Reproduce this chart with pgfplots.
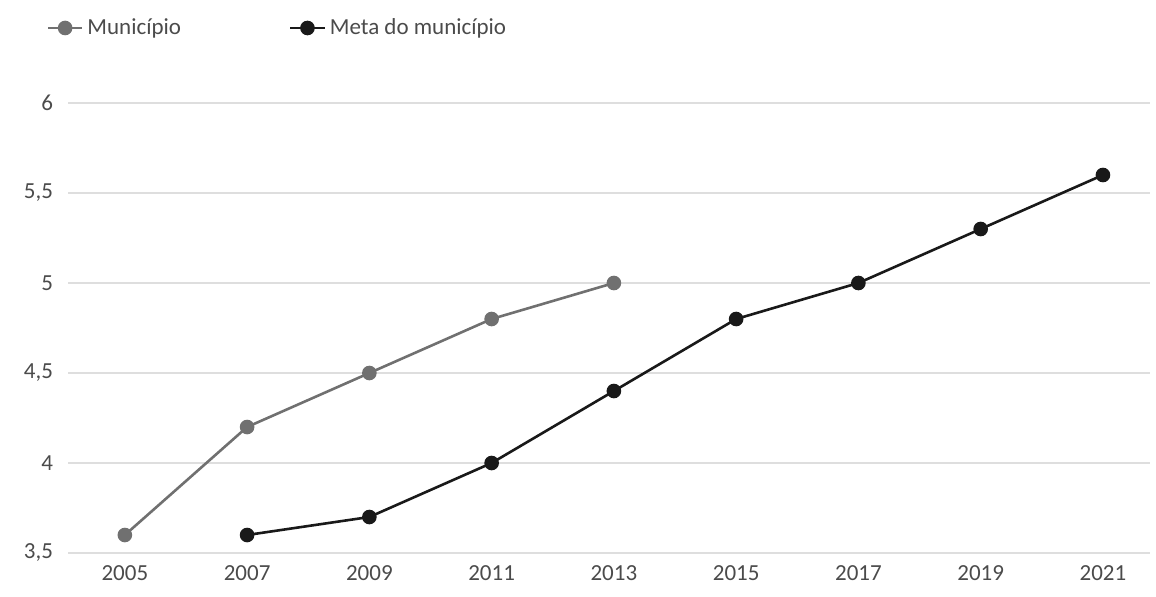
\documentclass[border=0pt]{standalone}
\usepackage{fontspec}
\setmainfont{Carlito}
\usepackage{pgfplots}
\pgfplotsset{compat=1.18}
\definecolor{munc}{RGB}{112,112,112}
\definecolor{meta}{RGB}{25,25,25}
\definecolor{gridc}{RGB}{222,222,222}
\definecolor{txt}{RGB}{75,75,75}
\begin{document}
\begin{tikzpicture}
\useasboundingbox (-34pt,-21.5pt) rectangle (544pt,276.5pt);
\begin{axis}[
  at={(0,0)}, anchor=south west,
  scale only axis,
  width=541pt, height=225pt,
  xmin=2004.07, xmax=2021.77,
  ymin=3.5, ymax=6,
  xtick={2005,2007,...,2021},
  ytick={3.5,4,4.5,5,5.5,6},
  xticklabel style={/pgf/number format/1000 sep={}, font=\fontsize{11.5}{14}\selectfont, text=txt, yshift=-3pt},
  yticklabel style={/pgf/number format/use comma, font=\fontsize{11.5}{14}\selectfont, text=txt, xshift=-4pt},
  /pgf/number format/assume math mode=true,
  ymajorgrids,
  grid style={gridc, line width=0.8pt},
  axis line style={draw=none},
  major tick length=0pt,
  clip=false,
  legend columns=2,
  legend style={draw=none, fill=none, inner sep=0pt,
    at={(axis description cs:-0.020,1.1667)}, anchor=west,
    font=\fontsize{11.5}{13}\selectfont, text=txt,
    /tikz/every even column/.append style={column sep=52pt}},
]
\addplot[color=munc, line width=1.3pt, mark=*, mark size=3pt, mark options={fill=munc, draw=munc}]
  coordinates {(2005,3.6) (2007,4.2) (2009,4.5) (2011,4.8) (2013,5.0)};
\addlegendentry{Município}
\addplot[color=meta, line width=1.3pt, mark=*, mark size=3pt, mark options={fill=meta, draw=meta}]
  coordinates {(2007,3.6) (2009,3.7) (2011,4.0) (2013,4.4) (2015,4.8) (2017,5.0) (2019,5.3) (2021,5.6)};
\addlegendentry{Meta do município}
\end{axis}
\end{tikzpicture}
\end{document}
